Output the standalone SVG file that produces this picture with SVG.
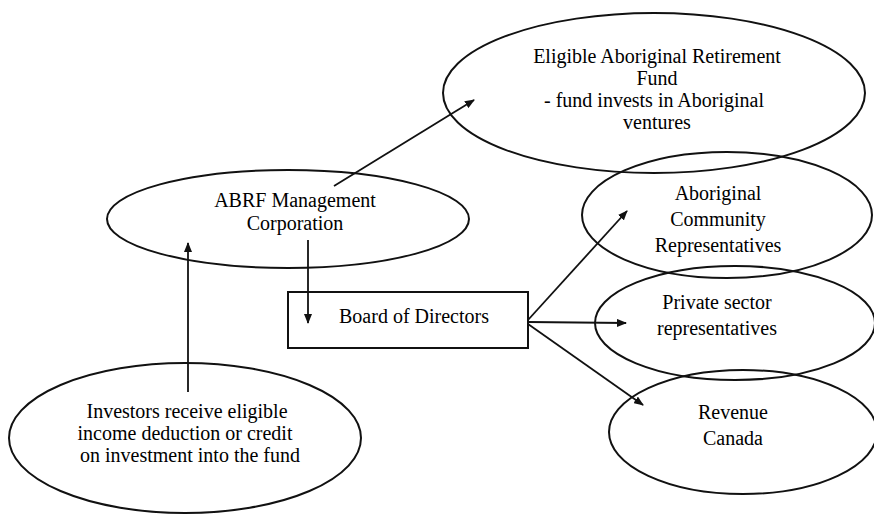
<svg xmlns="http://www.w3.org/2000/svg" width="874" height="516" viewBox="0 0 874 516">
<defs>
<marker id="ah" markerWidth="10" markerHeight="8" refX="9" refY="4" orient="auto" markerUnits="userSpaceOnUse">
<path d="M0,0 L10,4 L0,8 z" fill="#111"/>
</marker>
</defs>
<rect width="874" height="516" fill="#fff"/>
<g id="fund">
<ellipse fill="none" stroke="#111" stroke-width="2" cx="654" cy="93" rx="211" ry="80"/>
<text font-family="Liberation Serif" font-size="20" text-anchor="middle" x="657" y="63">Eligible  Aboriginal Retirement</text>
<text font-family="Liberation Serif" font-size="20" text-anchor="middle" x="657" y="85">Fund</text>
<text font-family="Liberation Serif" font-size="20" text-anchor="middle" x="654" y="107">- fund invests in Aboriginal</text>
<text font-family="Liberation Serif" font-size="20" text-anchor="middle" x="657" y="129">ventures</text>
</g>
<g id="abrf">
<ellipse fill="none" stroke="#111" stroke-width="2" cx="288" cy="219" rx="181" ry="49"/>
<text font-family="Liberation Serif" font-size="20" text-anchor="middle" x="295" y="207">ABRF  Management</text>
<text font-family="Liberation Serif" font-size="20" text-anchor="middle" x="295" y="230">Corporation</text>
</g>
<g id="board">
<rect fill="none" stroke="#111" stroke-width="2" x="288" y="292" width="240" height="56"/>
<text font-family="Liberation Serif" font-size="20" text-anchor="middle" x="414" y="323">Board  of Directors</text>
</g>
<g id="community">
<ellipse fill="none" stroke="#111" stroke-width="2" cx="727" cy="215" rx="145" ry="63"/>
<text font-family="Liberation Serif" font-size="20" text-anchor="middle" x="718" y="200">Aboriginal</text>
<text font-family="Liberation Serif" font-size="20" text-anchor="middle" x="718" y="226">Community</text>
<text font-family="Liberation Serif" font-size="20" text-anchor="middle" x="718" y="252">Representatives</text>
</g>
<g id="private">
<ellipse fill="none" stroke="#111" stroke-width="2" cx="735" cy="323" rx="140" ry="57"/>
<text font-family="Liberation Serif" font-size="20" text-anchor="middle" x="717" y="309">Private  sector</text>
<text font-family="Liberation Serif" font-size="20" text-anchor="middle" x="717" y="335">representatives</text>
</g>
<g id="revenue">
<ellipse fill="none" stroke="#111" stroke-width="2" cx="743" cy="432" rx="134" ry="62"/>
<text font-family="Liberation Serif" font-size="20" text-anchor="middle" x="733" y="419">Revenue</text>
<text font-family="Liberation Serif" font-size="20" text-anchor="middle" x="733" y="445">Canada</text>
</g>
<g id="investors">
<ellipse fill="none" stroke="#111" stroke-width="2" cx="185" cy="438" rx="176" ry="75"/>
<text font-family="Liberation Serif" font-size="20" text-anchor="middle" x="187" y="418">Investors receive eligible</text>
<text font-family="Liberation Serif" font-size="20" text-anchor="middle" x="185" y="440">income deduction or credit</text>
<text font-family="Liberation Serif" font-size="20" text-anchor="middle" x="190" y="462">on investment into the fund</text>
</g>
<g id="connectors" stroke="#111" stroke-width="1.8" fill="none" marker-end="url(#ah)">
<line x1="334" y1="186" x2="474" y2="100"/>
<line x1="188" y1="392" x2="188" y2="243"/>
<line x1="308" y1="240" x2="308" y2="323"/>
<line x1="528" y1="320" x2="627" y2="211"/>
<line x1="528" y1="322" x2="626" y2="323"/>
<line x1="528" y1="324" x2="643" y2="405"/>
</g>
</svg>
